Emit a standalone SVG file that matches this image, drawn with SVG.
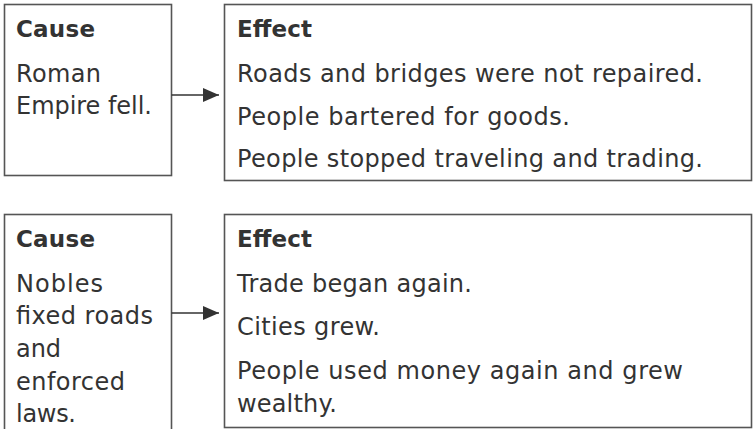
<svg xmlns="http://www.w3.org/2000/svg" width="755" height="429" viewBox="0 0 755 429">
<defs>
<style>
.box{fill:#fff;stroke:#555;stroke-width:1.6}
.h{font-family:"DejaVu Sans","Liberation Sans",sans-serif;font-weight:700;font-size:23px;fill:#333}
.t{font-family:"DejaVu Sans","Liberation Sans",sans-serif;font-size:24px;fill:#333}
.con{stroke:#333;stroke-width:1.6;fill:none}
</style>
<marker id="ah" markerWidth="16" markerHeight="14" refX="16" refY="7" orient="auto" markerUnits="userSpaceOnUse">
<path d="M0,0 L16,7 L0,14 Z" fill="#333"/>
</marker>
</defs>
<rect width="755" height="429" fill="#fff"/>
<g id="cause1">
<rect class="box" x="4.5" y="4.5" width="167" height="171"/>
<text class="h" x="16" y="37" textLength="79">Cause</text>
<text class="t" x="16" y="82" textLength="85">Roman</text>
<text class="t" x="16" y="114" textLength="136">Empire fell.</text>
</g>
<g id="effect1">
<rect class="box" x="224.5" y="4.5" width="527" height="176"/>
<text class="h" x="237" y="37" textLength="75">Effect</text>
<text class="t" x="237" y="82" textLength="466">Roads and bridges were not repaired.</text>
<text class="t" x="237" y="125" textLength="333">People bartered for goods.</text>
<text class="t" x="237" y="167" textLength="466">People stopped traveling and trading.</text>
</g>
<g id="cause2">
<rect class="box" x="4.5" y="214.5" width="167" height="230"/>
<text class="h" x="16" y="247" textLength="79">Cause</text>
<text class="t" x="16" y="292" textLength="87">Nobles</text>
<text class="t" x="16" y="324" textLength="137">fixed roads</text>
<text class="t" x="16" y="357" textLength="45">and</text>
<text class="t" x="16" y="390" textLength="109">enforced</text>
<text class="t" x="16" y="422" textLength="60">laws.</text>
</g>
<g id="effect2">
<rect class="box" x="224.5" y="214.5" width="527" height="213"/>
<text class="h" x="237" y="247" textLength="75">Effect</text>
<text class="t" x="237" y="292" textLength="235">Trade began again.</text>
<text class="t" x="237" y="335" textLength="143">Cities grew.</text>
<text class="t" x="237" y="379" textLength="446">People used money again and grew</text>
<text class="t" x="237" y="412" textLength="100">wealthy.</text>
</g>
<g id="connectors">
<line class="con" x1="171.5" y1="95" x2="219" y2="95" marker-end="url(#ah)"/>
<line class="con" x1="171.5" y1="313" x2="219" y2="313" marker-end="url(#ah)"/>
</g>
</svg>
